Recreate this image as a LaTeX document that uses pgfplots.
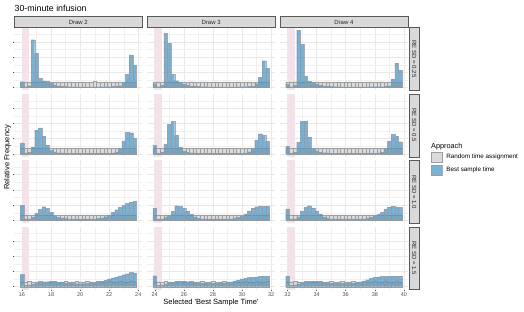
\documentclass[border=0pt]{standalone}
\usepackage{pgfplots}
\pgfplotsset{compat=1.18}
\usepackage{pgfplotstable}
\usepackage{fontspec}
\setmainfont{Liberation Sans}
\definecolor{bluefill}{RGB}{66,146,198}
\definecolor{greyfill}{RGB}{218,218,218}
\definecolor{pinkc}{RGB}{244,226,234}
\definecolor{stripfill}{RGB}{217,217,217}

% RE SD = 0.25
\pgfplotstableread{
t g2 b2 g3 b3 g4 b4
0.00 0.38 0.38 0.37 0.25 0.36 0.22
0.25 0.37 0.05 0.38 0.05 0.37 0.05
0.50 0.36 0.12 0.36 0.15 0.38 0.15
0.75 0.37 3.15 0.37 3.55 0.36 3.78
1.00 0.38 2.25 0.38 2.90 0.37 2.84
1.25 0.36 0.60 0.36 0.87 0.38 0.75
1.50 0.37 0.43 0.37 0.45 0.36 0.42
1.75 0.39 0.36 0.38 0.32 0.37 0.30
2.00 0.36 0.27 0.37 0.22 0.38 0.22
2.25 0.37 0.17 0.36 0.15 0.36 0.15
2.50 0.38 0.11 0.38 0.10 0.37 0.10
2.75 0.36 0.08 0.37 0.07 0.38 0.07
3.00 0.37 0.06 0.36 0.06 0.36 0.06
3.25 0.38 0.05 0.38 0.05 0.37 0.05
3.50 0.37 0.05 0.37 0.05 0.38 0.05
3.75 0.36 0.04 0.36 0.04 0.36 0.04
4.00 0.38 0.04 0.37 0.04 0.37 0.04
4.25 0.37 0.04 0.38 0.04 0.38 0.04
4.50 0.36 0.04 0.36 0.04 0.36 0.04
4.75 0.37 0.04 0.37 0.04 0.37 0.04
5.00 0.39 0.04 0.38 0.04 0.38 0.04
5.25 0.37 0.04 0.36 0.04 0.36 0.04
5.50 0.36 0.05 0.37 0.04 0.37 0.04
5.75 0.38 0.05 0.38 0.05 0.38 0.05
6.00 0.37 0.05 0.36 0.05 0.36 0.05
6.25 0.36 0.06 0.37 0.05 0.37 0.05
6.50 0.37 0.07 0.38 0.06 0.38 0.05
6.75 0.38 0.12 0.36 0.08 0.36 0.06
7.00 0.37 0.35 0.37 0.25 0.37 0.12
7.25 0.36 0.87 0.38 0.66 0.38 0.55
7.50 0.38 2.14 0.37 1.76 0.36 1.61
7.75 0.37 1.48 0.36 1.27 0.37 1.15
}\rowA

% RE SD = 0.5
\pgfplotstableread{
t g2 b2 g3 b3 g4 b4
0.00 0.36 0.72 0.35 0.56 0.36 0.49
0.25 0.35 0.06 0.36 0.05 0.35 0.05
0.50 0.37 0.12 0.35 0.12 0.37 0.12
0.75 0.36 0.45 0.37 0.62 0.36 0.78
1.00 0.35 1.56 0.36 1.93 0.35 2.13
1.25 0.37 1.72 0.35 2.13 0.37 2.18
1.50 0.36 1.17 0.36 1.22 0.36 1.11
1.75 0.35 0.58 0.37 0.42 0.35 0.35
2.00 0.36 0.22 0.35 0.20 0.36 0.20
2.25 0.37 0.12 0.36 0.12 0.37 0.12
2.50 0.35 0.08 0.37 0.08 0.35 0.08
2.75 0.36 0.06 0.35 0.06 0.36 0.06
3.00 0.37 0.05 0.36 0.05 0.37 0.05
3.25 0.35 0.05 0.37 0.05 0.35 0.05
3.50 0.36 0.05 0.35 0.05 0.36 0.05
3.75 0.37 0.05 0.36 0.05 0.37 0.05
4.00 0.35 0.05 0.37 0.05 0.35 0.05
4.25 0.36 0.05 0.35 0.05 0.36 0.05
4.50 0.37 0.05 0.36 0.05 0.37 0.05
4.75 0.36 0.05 0.37 0.05 0.35 0.05
5.00 0.35 0.05 0.36 0.05 0.36 0.05
5.25 0.37 0.05 0.35 0.05 0.37 0.05
5.50 0.36 0.05 0.37 0.05 0.35 0.05
5.75 0.35 0.05 0.36 0.05 0.36 0.05
6.00 0.37 0.05 0.35 0.05 0.37 0.05
6.25 0.36 0.06 0.37 0.06 0.35 0.06
6.50 0.35 0.10 0.36 0.15 0.36 0.12
6.75 0.37 0.38 0.35 0.35 0.37 0.35
7.00 0.36 0.86 0.37 0.90 0.35 0.82
7.25 0.35 1.43 0.36 1.33 0.36 1.27
7.50 0.37 1.40 0.35 1.22 0.37 1.16
7.75 0.36 1.03 0.37 0.82 0.35 0.80
}\rowB

% RE SD = 1.0
\pgfplotstableread{
t g2 b2 g3 b3 g4 b4
0.00 0.35 0.98 0.34 0.80 0.35 0.76
0.25 0.34 0.10 0.35 0.10 0.34 0.10
0.50 0.36 0.10 0.34 0.10 0.36 0.10
0.75 0.35 0.20 0.36 0.20 0.35 0.22
1.00 0.34 0.45 0.35 0.30 0.34 0.60
1.25 0.36 0.72 0.34 0.58 0.36 0.84
1.50 0.35 0.90 0.35 0.96 0.35 0.96
1.75 0.34 0.78 0.36 0.92 0.34 0.82
2.00 0.35 0.52 0.34 0.78 0.35 0.62
2.25 0.36 0.32 0.35 0.60 0.36 0.40
2.50 0.34 0.20 0.36 0.38 0.34 0.22
2.75 0.35 0.14 0.34 0.22 0.35 0.15
3.00 0.36 0.12 0.35 0.14 0.36 0.10
3.25 0.34 0.10 0.36 0.10 0.34 0.10
3.50 0.35 0.10 0.34 0.10 0.35 0.10
3.75 0.36 0.10 0.35 0.10 0.36 0.10
4.00 0.34 0.10 0.36 0.10 0.34 0.10
4.25 0.35 0.10 0.34 0.10 0.35 0.10
4.50 0.36 0.10 0.35 0.10 0.36 0.10
4.75 0.35 0.10 0.36 0.10 0.34 0.10
5.00 0.34 0.10 0.35 0.10 0.35 0.10
5.25 0.36 0.12 0.34 0.10 0.36 0.10
5.50 0.35 0.16 0.36 0.14 0.34 0.14
5.75 0.34 0.24 0.35 0.20 0.35 0.20
6.00 0.36 0.36 0.34 0.27 0.36 0.27
6.25 0.35 0.52 0.36 0.40 0.34 0.38
6.50 0.34 0.70 0.35 0.62 0.35 0.53
6.75 0.36 0.85 0.34 0.80 0.36 0.76
7.00 0.35 0.98 0.36 0.90 0.34 0.87
7.25 0.34 1.10 0.35 0.93 0.35 0.91
7.50 0.36 1.18 0.34 0.92 0.36 0.87
7.75 0.35 1.24 0.36 0.92 0.34 0.84
}\rowC

% RE SD = 1.5
\pgfplotstableread{
t g2 b2 g3 b3 g4 b4
0.00 0.33 0.80 0.32 0.73 0.33 0.69
0.25 0.32 0.10 0.33 0.10 0.32 0.10
0.50 0.34 0.12 0.32 0.12 0.34 0.12
0.75 0.33 0.15 0.34 0.18 0.33 0.18
1.00 0.32 0.22 0.33 0.25 0.32 0.25
1.25 0.34 0.28 0.32 0.30 0.34 0.30
1.50 0.33 0.32 0.33 0.35 0.33 0.34
1.75 0.32 0.33 0.34 0.36 0.32 0.36
2.00 0.33 0.34 0.32 0.36 0.33 0.35
2.25 0.34 0.33 0.33 0.33 0.34 0.32
2.50 0.32 0.30 0.34 0.30 0.32 0.29
2.75 0.33 0.27 0.32 0.28 0.33 0.26
3.00 0.34 0.24 0.33 0.26 0.34 0.24
3.25 0.32 0.22 0.34 0.24 0.32 0.22
3.50 0.33 0.21 0.32 0.23 0.33 0.21
3.75 0.34 0.20 0.33 0.22 0.34 0.21
4.00 0.32 0.20 0.34 0.22 0.32 0.21
4.25 0.33 0.20 0.32 0.22 0.33 0.22
4.50 0.34 0.21 0.33 0.23 0.34 0.24
4.75 0.33 0.23 0.34 0.25 0.32 0.27
5.00 0.32 0.26 0.33 0.28 0.33 0.32
5.25 0.34 0.30 0.32 0.32 0.34 0.38
5.50 0.33 0.36 0.34 0.38 0.32 0.46
5.75 0.32 0.43 0.33 0.45 0.33 0.55
6.00 0.34 0.51 0.32 0.52 0.34 0.61
6.25 0.33 0.58 0.34 0.57 0.32 0.65
6.50 0.32 0.65 0.33 0.60 0.33 0.67
6.75 0.34 0.72 0.32 0.62 0.34 0.67
7.00 0.33 0.79 0.34 0.64 0.32 0.68
7.25 0.32 0.86 0.33 0.67 0.33 0.69
7.50 0.34 0.93 0.32 0.70 0.34 0.69
7.75 0.33 0.91 0.34 0.70 0.32 0.69
}\rowD

\pgfplotsset{
  panel/.style={
    scale only axis, width=128pt, height=62.8pt, anchor=north west,
    xmin=-0.525, xmax=8.275, ymin=-0.19, ymax=3.94,
    axis line style={draw=none},
    xtick={0,2,4,6,8}, minor xtick={1,3,5,7},
    ytick={0,1,2,3}, minor ytick={0.5,1.5,2.5,3.5},
    xmajorgrids, ymajorgrids, xminorgrids, yminorgrids,
    major grid style={draw=black!9, line width=0.5pt},
    minor grid style={draw=black!6, line width=0.3pt},
    xticklabels={}, yticklabels={},
    major tick length=1.8pt, minor tick length=0pt,
    tick align=outside, xtick pos=left, ytick pos=left,
    xtick style={draw=none}, ytick style={draw=none},
    ticklabel style={font=\fontsize{5.5}{6}\selectfont, text=black!70},
    xticklabel style={inner sep=1pt},
    /pgf/number format/assume math mode=true,
  },
  leftcol/.style={ytick style={draw=black!70, line width=0.45pt}},
  bottomrow/.style={xtick style={draw=black!70, line width=0.45pt}, xticklabels={#1}},
  pinkrect/.style={draw=none, fill=pinkc, forget plot},
  greybar/.style={ybar, bar width=0.25, bar shift=0pt, fill=greyfill, draw=black!38, line width=0.22pt,
    legend image code/.code={\draw[##1, line width=0.4pt] (0pt,-5.25pt) rectangle (10.5pt,5.25pt);}},
  bluebar/.style={ybar, bar width=0.25, bar shift=0pt, fill=bluefill, fill opacity=0.7, draw=black!40, draw opacity=0.8, line width=0.22pt,
    legend image code/.code={\draw[##1, line width=0.4pt] (0pt,-5.25pt) rectangle (10.5pt,5.25pt);}},
}

\newcommand\panel[5]{%
  \begin{axis}[panel, at={(#1pt,#2pt)}, #5]
    \addplot[pinkrect] coordinates {(0,-0.19) (0.5,-0.19) (0.5,3.94) (0,3.94)} -- cycle;
    \addplot[greybar] table[x=t, y=g#4] {#3};
    \addplot[bluebar] table[x=t, y=b#4] {#3};
  \end{axis}}

\tikzset{
  strip/.style={draw=black!65, fill=stripfill, line width=0.5pt, inner sep=0pt,
    font=\fontsize{6}{7}\selectfont, text=black!85},
}

\begin{document}
\begin{tikzpicture}[x=1pt, y=1pt]
\useasboundingbox (0,0) rectangle (524,311);

% row 1
\panel{14.3}{283.4}{\rowA}{2}{leftcol}
\panel{147.1}{283.4}{\rowA}{3}{}
\panel{279.9}{283.4}{\rowA}{4}{}
% row 2
\panel{14.3}{217.0}{\rowB}{2}{leftcol}
\panel{147.1}{217.0}{\rowB}{3}{}
\panel{279.9}{217.0}{\rowB}{4}{legend entries={Random time assignment, Best sample time},
  legend cell align=left,
  legend style={at={(1.1805,0.0812)}, anchor=north west, draw=none, fill=none, inner sep=0pt, outer sep=0pt,
    row sep=2.3pt, font=\fontsize{6.3}{7}\selectfont, nodes={inner xsep=4.5pt, inner ysep=0pt}}}
% row 3
\panel{14.3}{150.6}{\rowC}{2}{leftcol}
\panel{147.1}{150.6}{\rowC}{3}{}
\panel{279.9}{150.6}{\rowC}{4}{}
% row 4
\panel{14.3}{84.2}{\rowD}{2}{leftcol, bottomrow={16,18,20,22,24}}
\panel{147.1}{84.2}{\rowD}{3}{bottomrow={24,26,28,30,32}}
\panel{279.9}{84.2}{\rowD}{4}{bottomrow={32,34,36,38,40}}

% column strips
\draw[strip] (14.3,283.6) rectangle (142.3,294.3);
\node[strip, draw=none, fill=none] at (78.3,288.95) {Draw 2};
\draw[strip] (147.1,283.6) rectangle (275.1,294.3);
\node[strip, draw=none, fill=none] at (211.1,288.95) {Draw 3};
\draw[strip] (279.9,283.6) rectangle (407.9,294.3);
\node[strip, draw=none, fill=none] at (343.9,288.95) {Draw 4};

% row strips
\draw[strip] (409,220.6) rectangle (419.5,283.4);
\node[strip, draw=none, fill=none, rotate=-90] at (414.25,252.0) {RE SD = 0.25};
\draw[strip] (409,154.2) rectangle (419.5,217.0);
\node[strip, draw=none, fill=none, rotate=-90] at (414.25,185.6) {RE SD = 0.5};
\draw[strip] (409,87.8) rectangle (419.5,150.6);
\node[strip, draw=none, fill=none, rotate=-90] at (414.25,119.2) {RE SD = 1.0};
\draw[strip] (409,21.4) rectangle (419.5,84.2);
\node[strip, draw=none, fill=none, rotate=-90] at (414.25,52.8) {RE SD = 1.5};

% titles
\node[anchor=base west, inner sep=0pt, font=\fontsize{8.8}{10}\selectfont] at (14.5,299.3) {30-minute infusion};
\node[anchor=base, inner sep=0pt, font=\fontsize{7.5}{9}\selectfont] at (211,7) {Selected \textquotesingle Best Sample Time\textquotesingle};
\node[anchor=base, inner sep=0pt, rotate=90, font=\fontsize{7.5}{9}\selectfont] at (9.4,153.5) {Relative Frequency};
\node[anchor=base west, inner sep=0pt, font=\fontsize{7.3}{8}\selectfont] at (431,163) {Approach};
\end{tikzpicture}
\end{document}
